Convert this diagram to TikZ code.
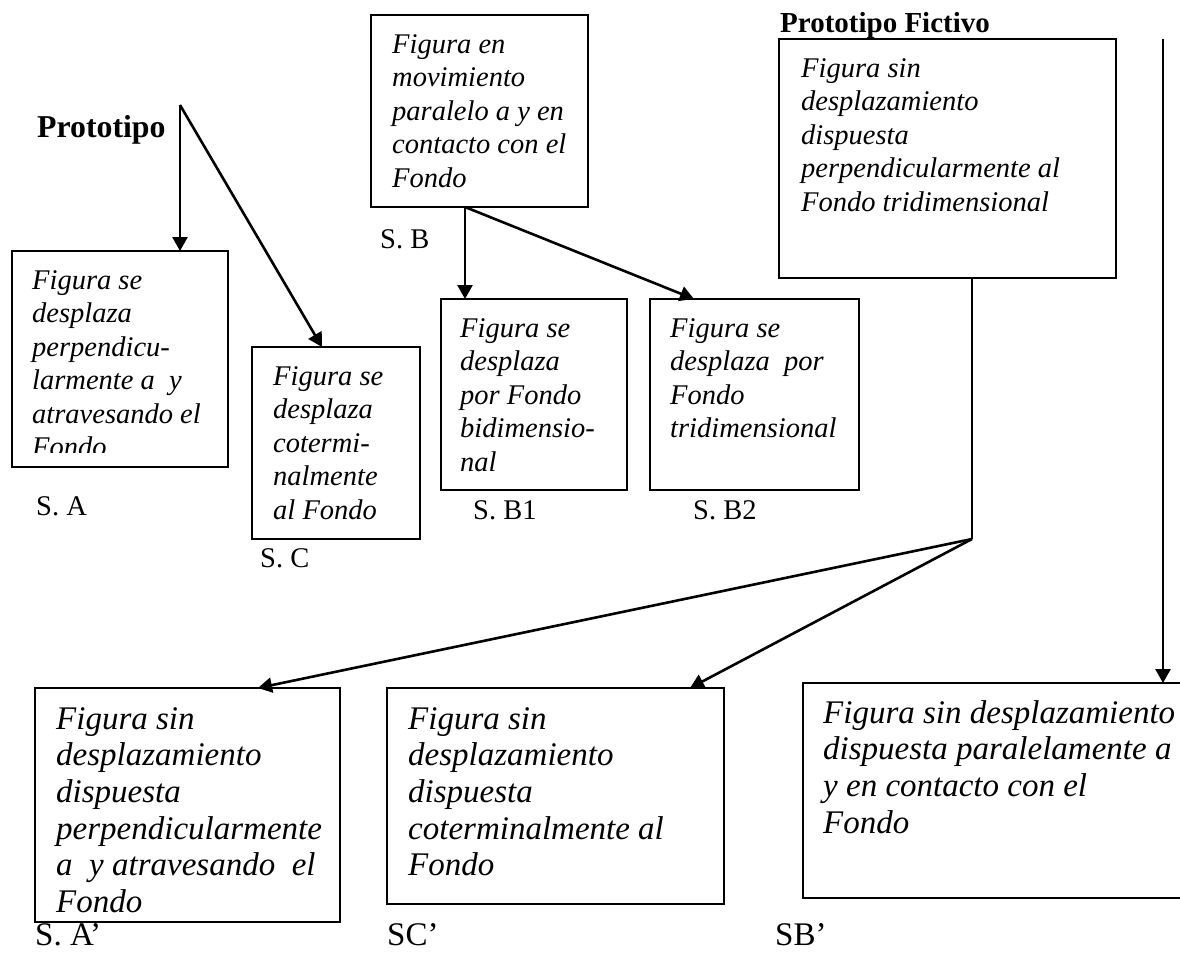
\documentclass[tikz,border=0pt]{standalone}
\usepackage{fontspec}
\setmainfont{Liberation Serif}
\usetikzlibrary{arrows.meta}
% several lines stacked left-aligned, baseline on the first line
\newcommand\linesof[1]{\begin{tabular}[t]{@{}l@{}}#1\end{tabular}}
\begin{document}
\begin{tikzpicture}[x=1pt,y=-1pt,
  box/.style={draw, line width=2pt, inner sep=0pt, outer sep=0pt, anchor=north west},
  conn/.style={line width=2.6pt, line cap=butt},
  arr/.style={conn, -{Triangle[length=14pt,width=15pt]}},
  tsmall/.style={inner sep=0pt, anchor=base west, font=\fontsize{28.5}{33.5}\selectfont},
  tsmallit/.style={inner sep=0pt, anchor=base west, font=\fontsize{28.5}{33.5}\selectfont\itshape},
  tbig/.style={inner sep=0pt, anchor=base west, text depth=0pt, font=\fontsize{33}{36.7}\selectfont},
  tbigit/.style={inner sep=0pt, anchor=base west, font=\fontsize{33}{36.7}\selectfont\itshape},
  headA/.style={inner sep=0pt, anchor=base west, font=\fontsize{31.8}{36}\selectfont\bfseries},
  headB/.style={inner sep=0pt, anchor=base west, font=\fontsize{29}{33}\selectfont\bfseries}
]
\useasboundingbox (0,0) rectangle (1180,954);
\fill[white] (0,0) rectangle (1180,954);
\clip (0,0) rectangle (1180,954);

% ---------- boxes ----------
\node[box, minimum width=216pt, minimum height=216pt] (sa)  at (12,251)  {};
\node[box, minimum width=168pt, minimum height=192pt] (sc)  at (252,347) {};
\node[box, minimum width=217pt, minimum height=192pt] (sb)  at (371,15)  {};
\node[box, minimum width=186pt, minimum height=191pt] (sbi) at (441,299) {};
\node[box, minimum width=209pt, minimum height=191pt] (sbii) at (650,299) {};
\node[box, minimum width=337pt, minimum height=239pt] (pf)  at (779,39)  {};
\node[box, minimum width=305pt, minimum height=234pt] (sap) at (35,688)  {};
\node[box, minimum width=337pt, minimum height=216pt] (scp) at (387,688) {};
\node[box, minimum width=382pt, minimum height=215pt] (sbp) at (803,683) {};

% ---------- box texts ----------
% the last line of the first box runs past its text area and is cut
\begin{scope}
  \clip (12,251) rectangle (228,452);
  \node[tsmallit] (sa-t) at (32,289)
    {\linesof{Figura se\\desplaza\\perpendicu-\\larmente a\ \ y\\atravesando el\\Fondo}};
\end{scope}
\node[tsmallit] (sc-t) at (273,385)
  {\linesof{Figura se\\desplaza\\cotermi-\\nalmente\\al Fondo}};
\node[tsmallit] (sb-t) at (392,53)
  {\linesof{Figura en\\movimiento\\paralelo a y en\\contacto con el\\Fondo}};
\node[tsmallit] (sbi-t) at (460,337)
  {\linesof{Figura se\\desplaza\\por Fondo\\bidimensio-\\nal}};
\node[tsmallit] (sbii-t) at (670,337)
  {\linesof{Figura se\\desplaza\ \ por\\Fondo\\tridimensional}};
\node[tsmallit] (pf-t) at (801,77)
  {\linesof{Figura sin\\desplazamiento\\dispuesta\\perpendicularmente al\\Fondo tridimensional}};
\node[tbigit] (sap-t) at (56,729)
  {\linesof{Figura sin\\desplazamiento\\dispuesta\\perpendicularmente\\a\ \ y atravesando\ \ el\\Fondo}};
\node[tbigit] (scp-t) at (408,729)
  {\linesof{Figura sin\\desplazamiento\\dispuesta\\coterminalmente al\\Fondo}};
\node[tbigit] (sbp-t) at (823,723)
  {\linesof{Figura sin desplazamiento\\dispuesta paralelamente a\\y en contacto con el\\Fondo}};

% ---------- headings and labels ----------
\node[headA] (proto)  at (37,137) {Prototipo};
\node[headB] (fict)   at (780,32) {Prototipo Fictivo};
\node[tsmall] (la)    at (36,515)  {S. A};
\node[tsmall] (lc)    at (260,567) {S. C};
\node[tsmall] (lb)    at (380,248) {S. B};
\node[tsmall] (lbi)   at (473,519) {S. B1};
\node[tsmall] (lbii)  at (693,519) {S. B2};
\node[tbig]   (lap)   at (35,945)  {S. A’};
\node[tbig]   (lcp)   at (387,945) {SC’};
\node[tbig]   (lbp)   at (775,945) {SB’};

% ---------- connectors ----------
\coordinate (p) at (180,105);
\draw[arr] (p) -- (p |- sa.north);
\draw[arr] (p) -- ([xshift=70pt]sc.north west);

\coordinate (q) at ([xshift=94pt]sb.south west);
\draw[arr] (q) -- (q |- sbi.north);
\draw[arr] (q) -- ([xshift=44pt]sbii.north west);

\coordinate (f) at ([xshift=193pt]pf.south west);
\coordinate (g) at (972,539);
\draw[conn] (f) -- (g);
\draw[arr] (g) -- ([xshift=223pt]sap.north west);
\draw[arr] (g) -- ([xshift=303pt]scp.north west);

\coordinate (r) at (1163,39);
\draw[arr] (r) -- (r |- sbp.north);
\end{tikzpicture}
\end{document}
